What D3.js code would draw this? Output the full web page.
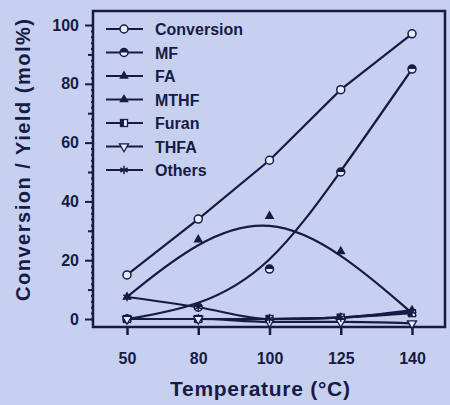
<!DOCTYPE html>
<html>
<head>
<meta charset="utf-8">
<script src="https://cdn.jsdelivr.net/npm/d3@7"></script>
<style>
  body { margin: 0; background: #c8d0ef; }
  svg { display: block; }
  text { font-family: "Liberation Sans", Arial, sans-serif; font-weight: bold; fill: #161b45; }
</style>
</head>
<body>
<svg id="chart"></svg>
<script>
const temps = ["50", "80", "100", "125", "140"];
const conversion = [15, 34, 54, 78, 97];
const mf = [0, 4, 17, 50, 85];
const fa = [7.5, 27, 35, 23, 2];
const mthf = [0, 0, 0, 0.5, 3];
const furan = [0, 0, 0, 0.5, 2];
const thfa = [0, 0, -1, -1, -1.5];
const others = [7.5, 4, 0, 0.5, 2.5];
const yTicks = [0, 20, 40, 60, 80, 100];

const ink = "#161b45";
const width = 450, height = 405;
const svg = d3.select("#chart").attr("width", width).attr("height", height);

const frame = { left: 93, right: 445, top: 11, bottom: 327 };

const x = d3.scalePoint().domain(temps).range([127, 412]);
const y = d3.scaleLinear().domain([0, 100]).range([319, 25]);

// frame
svg.append("rect")
  .attr("x", frame.left).attr("y", frame.top)
  .attr("width", frame.right - frame.left).attr("height", frame.bottom - frame.top)
  .attr("fill", "none").attr("stroke", ink).attr("stroke-width", 2.5);

// y axis: major, minor and tiny ticks
const yAxis = svg.append("g").attr("transform", `translate(${frame.left},0)`);
yAxis.call(d3.axisLeft(y).tickValues(d3.range(0, 101, 2)).tickSize(2).tickFormat(""));
yAxis.append("g").call(d3.axisLeft(y).tickValues(d3.range(10, 100, 20)).tickSize(5).tickFormat(""));
yAxis.append("g").call(d3.axisLeft(y).tickValues(yTicks).tickSize(8).tickPadding(6).tickFormat(d3.format("d")));
yAxis.selectAll(".domain").remove();
yAxis.selectAll("line").attr("stroke", ink).attr("stroke-width", 2);
yAxis.selectAll("text").attr("font-size", 16).style("font-family", "Liberation Sans, Arial, sans-serif").style("font-weight", "bold").attr("fill", ink);

// x axis
const xAxis = svg.append("g").attr("transform", `translate(0,${frame.bottom})`)
  .call(d3.axisBottom(x).tickSize(8).tickPadding(18));
xAxis.select(".domain").remove();
xAxis.selectAll("line").attr("stroke", ink).attr("stroke-width", 2.5);
xAxis.selectAll("text").attr("font-size", 16).style("font-family", "Liberation Sans, Arial, sans-serif").style("font-weight", "bold").attr("fill", ink);

// axis titles
svg.append("text")
  .attr("transform", "translate(30,160) rotate(-90)")
  .attr("text-anchor", "middle")
  .attr("font-size", 20)
  .attr("textLength", 282)
  .attr("lengthAdjust", "spacing")
  .text("Conversion / Yield (mol%)");

svg.append("text")
  .attr("x", 260).attr("y", 396)
  .attr("text-anchor", "middle")
  .attr("font-size", 21)
  .attr("textLength", 180)
  .attr("lengthAdjust", "spacing")
  .text("Temperature (°C)");

// series
const series = [
  { name: "Conversion", values: conversion, curve: d3.curveLinear, marker: "circleOpen" },
  { name: "MF", values: mf, curve: d3.curveBasis, marker: "circleHalf" },
  { name: "FA", values: fa, curve: d3.curveBasis, marker: "triangle" },
  { name: "MTHF", values: mthf, curve: d3.curveMonotoneX, marker: "triangle" },
  { name: "Furan", values: furan, curve: d3.curveMonotoneX, marker: "squareHalf" },
  { name: "THFA", values: thfa, curve: d3.curveMonotoneX, marker: "triangleDown" },
  { name: "Others", values: others, curve: d3.curveMonotoneX, marker: "star" }
];

function drawMarker(g, type, cx, cy) {
  const m = g.append("g").attr("transform", `translate(${cx},${cy})`);
  if (type === "circleOpen") {
    m.append("circle").attr("r", 4).attr("fill", "#e8ecfa").attr("stroke", ink).attr("stroke-width", 1.5);
  } else if (type === "circleHalf") {
    m.append("circle").attr("r", 4).attr("fill", "#e8ecfa").attr("stroke", ink).attr("stroke-width", 1.5);
    m.append("path").attr("d", "M-4,0 A4,4 0 0,1 4,0 Z").attr("fill", ink);
  } else if (type === "triangle") {
    m.append("path").attr("d", d3.symbol(d3.symbolTriangle, 40)()).attr("fill", ink);
  } else if (type === "triangleDown") {
    m.append("path").attr("d", d3.symbol(d3.symbolTriangle, 36)()).attr("transform", "rotate(180)")
      .attr("fill", "#e8ecfa").attr("stroke", ink).attr("stroke-width", 1.3);
  } else if (type === "squareHalf") {
    m.append("rect").attr("x", -3.5).attr("y", -3.5).attr("width", 7).attr("height", 7)
      .attr("fill", "#e8ecfa").attr("stroke", ink).attr("stroke-width", 1.3);
    m.append("rect").attr("x", -3.5).attr("y", -3.5).attr("width", 3.5).attr("height", 7).attr("fill", ink);
  } else if (type === "star") {
    m.append("path").attr("d", d3.symbol(d3.symbolAsterisk, 50)()).attr("stroke", ink).attr("stroke-width", 1.5);
  }
}

const plot = svg.append("g");
series.forEach((s) => {
  const pts = temps.map((t, i) => [x(t), y(s.values[i])]);
  plot.append("path")
    .attr("d", d3.line().curve(s.curve)(pts))
    .attr("fill", "none").attr("stroke", ink).attr("stroke-width", 2.2);
});
series.forEach((s) => {
  temps.forEach((t, i) => drawMarker(plot, s.marker, x(t), y(s.values[i])));
});

// legend
const legend = svg.append("g");
series.forEach((s, i) => {
  const ly = 29 + i * 23.5;
  legend.append("line")
    .attr("x1", 106).attr("x2", 143).attr("y1", ly).attr("y2", ly)
    .attr("stroke", ink).attr("stroke-width", 2);
  drawMarker(legend, s.marker, 124, ly);
  legend.append("text")
    .attr("x", 155).attr("y", ly + 6)
    .attr("font-size", 16)
    .text(s.name);
});
</script>
</body>
</html>
